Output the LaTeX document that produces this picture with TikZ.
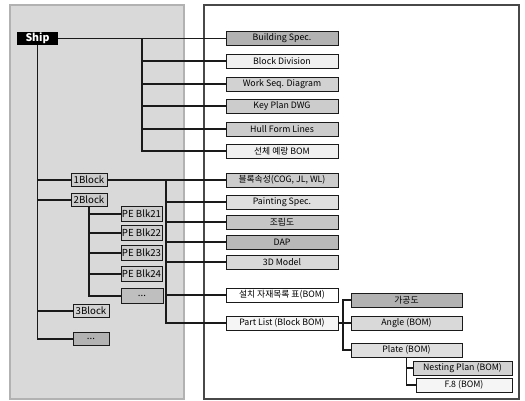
\documentclass[tikz,border=0pt]{standalone}
\usepackage{fontspec}
\setmainfont{Noto Sans CJK KR}
\usepackage{xcolor}
\usetikzlibrary{positioning}
\definecolor{ink}{HTML}{1A1A1A}

\begin{document}
\begin{tikzpicture}[x=0.02cm, y=-0.02cm,
  item/.style={rectangle, draw=ink, line width=0.5pt, minimum width=2.24cm, minimum height=0.28cm, inner sep=0pt, font=\fontsize{5}{6}\selectfont},
  sub/.style={item, minimum width=2.22cm},
  blk/.style={rectangle, draw=ink, line width=0.5pt, minimum width=0.72cm, minimum height=0.27cm, inner sep=0.5pt, fill=gray!40, font=\fontsize{5.5}{6}\selectfont},
  pe/.style={blk, minimum width=0.82cm, minimum height=0.29cm},
  link/.style={line width=0.8pt, ink}
]
  \useasboundingbox (0,0) rectangle (525,401);

  % Panels
  \draw[fill=gray!30, draw=gray!60, line width=0.6pt] (10,5) rectangle (184,399);
  \draw[fill=white, draw=ink!80, line width=0.6pt] (204,5) rectangle (519,399);

  % Left: ship and blocks
  \node[fill=black, text=white, font=\fontsize{6}{7}\selectfont\bfseries, minimum width=0.82cm, minimum height=0.26cm, inner sep=0pt] (ship) at (37.5,38.5) {Ship};

  \node[blk] (blk1) at (89,180) {1Block};
  \node[blk] (blk2) at (89,200) {2Block};
  \node[pe] (pe21) at (141.5,214) {PE Blk21};
  \node[pe] (pe22) at (141.5,233) {PE Blk22};
  \node[pe] (pe23) at (141.5,253) {PE Blk23};
  \node[pe] (pe24) at (141.5,274) {PE Blk24};
  \node[pe, fill=gray!50, minimum width=0.84cm] (pex) at (142,296) {...};
  \node[blk, fill=gray!35] (blk3) at (91,311) {3Block};
  \node[blk, fill=gray!60] (blkx) at (91,339) {...};

  % Right: documents
  \node[item, fill=gray!60] (bspec) at (282,38.5) {Building Spec.};
  \node[item, fill=gray!12] (bdiv) at (282,61) {Block Division};
  \node[item, fill=gray!35] (wseq) at (282,84) {Work Seq. Diagram};
  \node[item, fill=gray!40] (kplan) at (282,106) {Key Plan DWG};
  \node[item, fill=gray!40] (hull) at (282,129) {Hull Form Lines};
  \node[item, fill=gray!12] (hbom) at (282,151) {선체 예랑 BOM};
  \node[item, fill=gray!40] (attr) at (282,180) {블록속성(COG, JL, WL)};
  \node[item, fill=gray!25] (paint) at (282,202) {Painting Spec.};
  \node[item, fill=gray!45] (assy) at (282,222) {조립도};
  \node[item, fill=gray!55] (dap) at (282,242) {DAP};
  \node[item, fill=gray!30] (model) at (282,262) {3D Model};
  \node[item, fill=white] (inst) at (282,295) {설치 자재목록 표(BOM)};
  \node[item, fill=gray!8] (plist) at (282,323) {Part List (Block BOM)};

  \node[sub, fill=gray!60] (cut) at (406.5,300) {가공도};
  \node[sub, fill=gray!30] (angle) at (406.5,323) {Angle (BOM)};
  \node[sub, fill=gray!25] (plate) at (406.5,350) {Plate (BOM)};
  \node[item, fill=gray!35, minimum width=1.98cm] (nest) at (462.5,368) {Nesting Plan (BOM)};
  \node[item, fill=gray!8, minimum width=1.92cm] (f8) at (464,385) {F.8 (BOM)};

  % Connectors
  \coordinate (busA) at (142,38.5);
  \coordinate (busB) at (166,180);
  \coordinate (busC) at (343,323);

  \draw[link] (ship.east) -- (bspec.west);
  \foreach \n in {bdiv,wseq,kplan,hull,hbom}
    \draw[link] (busA) |- (\n.west);

  \foreach \n in {blk1,blk2,blk3,blkx}
    \draw[link] (ship.south) |- (\n.west);
  \foreach \n in {pe21,pe22,pe23,pe24,pex}
    \draw[link] (blk2.south) |- (\n.west);

  \draw[link] (blk1.east) -- (attr.west);
  \foreach \n in {paint,assy,dap,model,inst,plist}
    \draw[link] (busB) |- (\n.west);

  \draw[link] (plist.east) -- (angle.west);
  \draw[link] (busC) |- (cut.west);
  \draw[link] (busC) |- (plate.west);
  \draw[link] (plate.south) |- (nest.west);
  \draw[link] (plate.south) |- (f8.west);

\end{tikzpicture}
\end{document}
